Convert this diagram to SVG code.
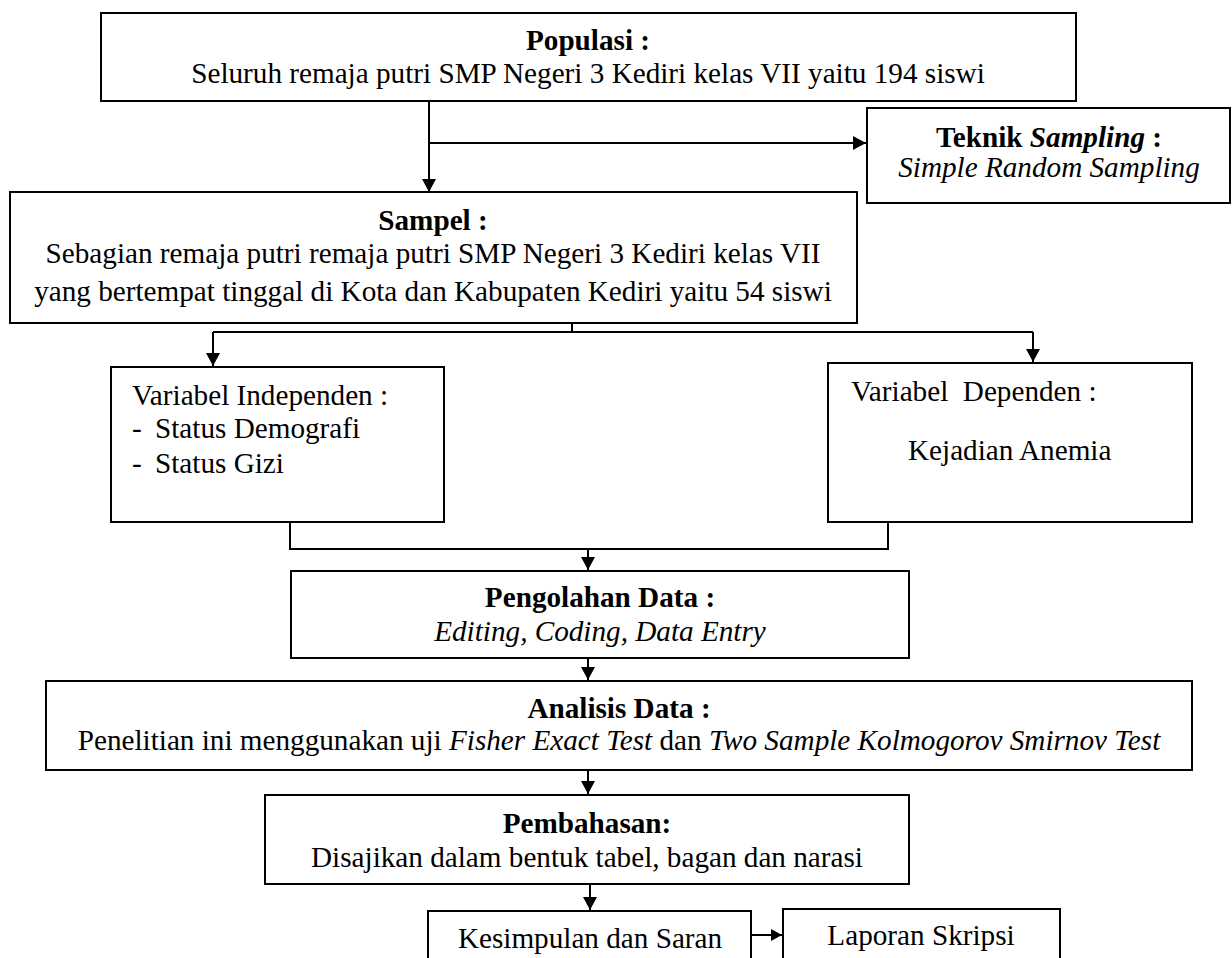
<svg xmlns="http://www.w3.org/2000/svg" width="1232" height="958" viewBox="0 0 1232 958">
<style>
.box{fill:#fff;stroke:#000;stroke-width:2}
.ln{fill:none;stroke:#000;stroke-width:2}
.t{font-family:"Times New Roman","Liberation Serif",Tinos,serif;font-size:29.2px;font-weight:normal;font-style:normal;fill:#000}
.b{font-weight:bold}
.i{font-style:italic}
.c{text-anchor:middle}
</style>
<defs>
<marker id="ah" markerUnits="userSpaceOnUse" markerWidth="14" markerHeight="14" refX="13" refY="7" orient="auto">
<path d="M0,0 L13,7 L0,14 z" fill="#000"/>
</marker>
<marker id="ahs" markerUnits="userSpaceOnUse" markerWidth="12" markerHeight="12" refX="11" refY="6" orient="auto">
<path d="M0,0 L11,6 L0,12 z" fill="#000"/>
</marker>
</defs>
<g id="connectors">
<path class="ln" d="M429,101 V192" marker-end="url(#ah)"/>
<path class="ln" d="M429,143 H866" marker-end="url(#ah)"/>
<path class="ln" d="M572,323 V332"/>
<path class="ln" d="M213,332 H1033"/>
<path class="ln" d="M213,332 V366" marker-end="url(#ah)"/>
<path class="ln" d="M1033,332 V362" marker-end="url(#ah)"/>
<path class="ln" d="M290,522 V549 H888 V522"/>
<path class="ln" d="M588,549 V570" marker-end="url(#ah)"/>
<path class="ln" d="M588,658 V680" marker-end="url(#ah)"/>
<path class="ln" d="M588,770 V794" marker-end="url(#ah)"/>
<path class="ln" d="M590,884 V910" marker-end="url(#ah)"/>
<path class="ln" d="M751,935 H782" marker-end="url(#ahs)"/>
</g>
<g id="populasi">
<rect class="box" x="101" y="13" width="975" height="88"/>
<text class="t b c" x="588" y="50">Populasi :</text>
<text class="t c" x="588" y="83">Seluruh remaja putri SMP Negeri 3 Kediri kelas VII yaitu 194 siswi</text>
</g>
<g id="teknik">
<rect class="box" x="867" y="108" width="363" height="95"/>
<text class="t c" x="1049" y="147"><tspan class="b">Teknik </tspan><tspan class="b i">Sampling</tspan><tspan class="b"> :</tspan></text>
<text class="t i c" x="1049" y="177">Simple Random Sampling</text>
</g>
<g id="sampel">
<rect class="box" x="10" y="192" width="847" height="131"/>
<text class="t b c" x="433" y="230">Sampel :</text>
<text class="t c" x="433" y="263">Sebagian remaja putri remaja putri SMP Negeri 3 Kediri kelas VII</text>
<text class="t c" x="433" y="301">yang bertempat tinggal di Kota dan Kabupaten Kediri yaitu 54 siswi</text>
</g>
<g id="independen">
<rect class="box" x="111" y="367" width="333" height="155"/>
<text class="t" x="132" y="405">Variabel Independen :</text>
<text class="t" x="132" y="438">-</text>
<text class="t" x="155" y="438">Status Demografi</text>
<text class="t" x="132" y="473">-</text>
<text class="t" x="155" y="473">Status Gizi</text>
</g>
<g id="dependen">
<rect class="box" x="828" y="363" width="364" height="159"/>
<text class="t" x="851" y="401" xml:space="preserve">Variabel  Dependen :</text>
<text class="t" x="908" y="460">Kejadian Anemia</text>
</g>
<g id="pengolahan">
<rect class="box" x="291" y="571" width="618" height="87"/>
<text class="t b c" x="600" y="607">Pengolahan Data :</text>
<text class="t i c" x="600" y="641">Editing, Coding, Data Entry</text>
</g>
<g id="analisis">
<rect class="box" x="46" y="681" width="1146" height="89"/>
<text class="t b c" x="619" y="718">Analisis Data :</text>
<text class="t c" x="619" y="750">Penelitian ini menggunakan uji <tspan class="i">Fisher Exact Test</tspan> dan <tspan class="i">Two Sample Kolmogorov Smirnov Test</tspan></text>
</g>
<g id="pembahasan">
<rect class="box" x="265" y="795" width="644" height="89"/>
<text class="t b c" x="587" y="833">Pembahasan:</text>
<text class="t c" x="587" y="867">Disajikan dalam bentuk tabel, bagan dan narasi</text>
</g>
<g id="kesimpulan">
<rect class="box" x="428" y="911" width="323" height="60"/>
<text class="t c" x="590" y="948">Kesimpulan dan Saran</text>
</g>
<g id="laporan">
<rect class="box" x="783" y="909" width="277" height="62"/>
<text class="t c" x="921" y="945">Laporan Skripsi</text>
</g>
</svg>
